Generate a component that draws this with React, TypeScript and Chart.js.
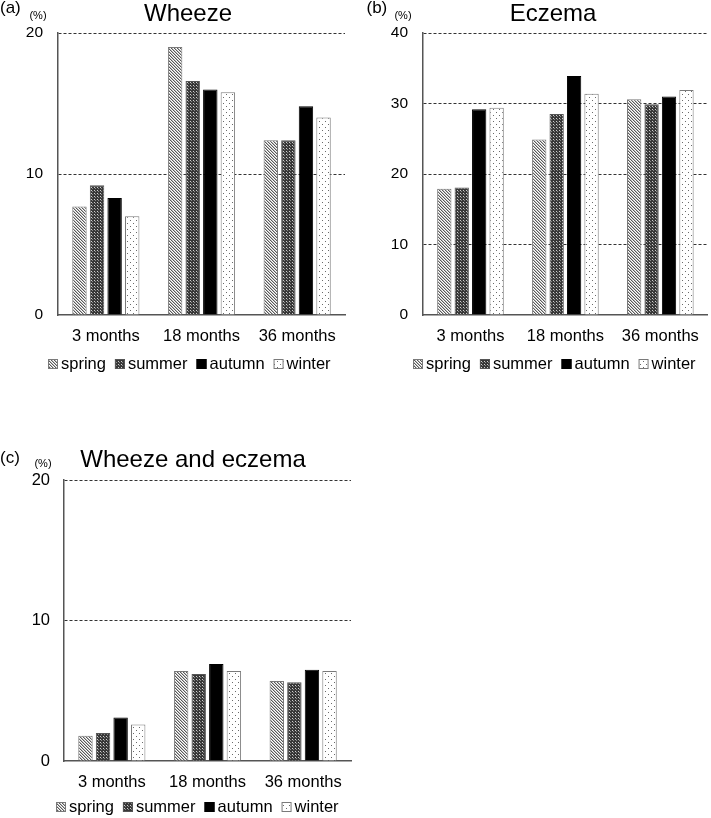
import React, { useEffect, useRef } from "react";
import { Chart, registerables } from "chart.js";

Chart.register(...registerables);

const FONT = '"Liberation Sans", Arial, Helvetica, sans-serif';

// ---------- data ----------
const categories = ["3 months", "18 months", "36 months"];
const seasons = ["spring", "summer", "autumn", "winter"];

const wheezeSpring = [7.7, 19.0, 12.4];
const wheezeSummer = [9.2, 16.6, 12.4];
const wheezeAutumn = [8.3, 16.0, 14.8];
const wheezeWinter = [7.0, 15.8, 14.0];

const eczemaSpring = [17.9, 24.9, 30.6];
const eczemaSummer = [18.1, 28.5, 29.9];
const eczemaAutumn = [29.2, 33.9, 31.0];
const eczemaWinter = [29.4, 31.4, 31.9];

const bothSpring = [1.8, 6.4, 5.7];
const bothSummer = [2.0, 6.2, 5.6];
const bothAutumn = [3.1, 6.9, 6.5];
const bothWinter = [2.6, 6.4, 6.4];

const wheezeMax = 20;
const eczemaMax = 40;
const bothMax = 20;
const tickStep = 10;

// ---------- patterns ----------
function makePattern(w: number, h: number, draw: (g: CanvasRenderingContext2D) => void) {
  const c = document.createElement("canvas");
  c.width = w;
  c.height = h;
  const g = c.getContext("2d")!;
  draw(g);
  const probe = document.createElement("canvas").getContext("2d")!;
  return probe.createPattern(c, "repeat")!;
}

function makeFills() {
  const spring = makePattern(3, 3, (g) => {
    g.fillStyle = "#ffffff";
    g.fillRect(0, 0, 3, 3);
    for (let i = 0; i < 3; i++) {
      g.fillStyle = "#5a5a5a";
      g.fillRect(i, i, 1, 1);
      g.fillStyle = "#bdbdbd";
      g.fillRect((i + 1) % 3, i, 1, 1);
    }
  });
  const summer = makePattern(3, 3, (g) => {
    g.fillStyle = "#383838";
    g.fillRect(0, 0, 3, 3);
    g.fillStyle = "#cfcfcf";
    g.fillRect(1, 1, 1, 1);
    g.fillStyle = "#8a8a8a";
    g.fillRect(2, 2, 1, 1);
  });
  const autumn = "#000000";
  const winter = makePattern(6, 6, (g) => {
    g.fillStyle = "#ffffff";
    g.fillRect(0, 0, 6, 6);
    g.fillStyle = "#6a6a6a";
    g.fillRect(1, 1, 1, 1);
    g.fillRect(4, 4, 1, 1);
  });
  return [spring, summer, autumn, winter];
}

const borderColors = ["#7a7a7a", "#555555", "#000000", "#7a7a7a"];

type PanelProps = {
  left: number;
  top: number;
  width: number;
  height: number;
  series: number[][];
  max: number;
  title: string;
  letter: string;
  padTop: number;
  padRight: number;
  yWidth: number;
  xHeight: number;
  yFont: number;
  yPad: number;
  xFont: number;
  xPad: number;
  titleX: number;
  titleY: number;
  letterX: number;
  letterY: number;
  unitX: number;
  unitY: number;
  legendX: number;
  legendY: number;
};

function Panel(p: PanelProps) {
  const ref = useRef<HTMLCanvasElement | null>(null);
  useEffect(() => {
    const canvas = ref.current!;
    const fills = makeFills();

    const decor = {
      id: "decor",
      afterDraw(chart: any) {
        const ctx: CanvasRenderingContext2D = chart.ctx;
        ctx.save();
        ctx.fillStyle = "#000";
        // title
        ctx.font = `24px ${FONT}`;
        ctx.textAlign = "center";
        ctx.textBaseline = "alphabetic";
        ctx.fillText(p.title, p.titleX, p.titleY);
        // letter
        ctx.font = `17px ${FONT}`;
        ctx.textAlign = "left";
        ctx.fillText(p.letter, p.letterX, p.letterY);
        // unit
        ctx.font = `11px ${FONT}`;
        ctx.textAlign = "center";
        ctx.fillText("(%)", p.unitX, p.unitY);
        // legend
        ctx.font = `16.5px ${FONT}`;
        ctx.textAlign = "left";
        const box = 10;
        const gapText = 3;
        const gapItem = 9;
        const widths = seasons.map((s) => ctx.measureText(s).width);
        const total =
          widths.reduce((a, b) => a + b, 0) + seasons.length * (box + gapText) + (seasons.length - 1) * gapItem;
        let x = Math.round(p.legendX - total / 2);
        chart.data.datasets.forEach((ds: any, i: number) => {
          ctx.fillStyle = ds.backgroundColor;
          ctx.fillRect(x, p.legendY - box, box, box);
          ctx.strokeStyle = ds.borderColor;
          ctx.lineWidth = 1;
          ctx.strokeRect(x + 0.5, p.legendY - box + 0.5, box - 1, box - 1);
          ctx.fillStyle = "#000";
          ctx.fillText(ds.label, x + box + gapText, p.legendY);
          x += box + gapText + widths[i] + gapItem;
        });
        ctx.restore();
      },
    };

    const chart = new Chart(canvas, {
      type: "bar",
      data: {
        labels: categories,
        datasets: seasons.map((s, i) => ({
          label: s,
          data: p.series[i],
          backgroundColor: fills[i] as any,
          borderColor: borderColors[i],
          borderWidth: 1,
          categoryPercentage: 0.735,
          barPercentage: 0.82,
        })),
      },
      options: {
        responsive: false,
        animation: false,
        devicePixelRatio: 1,
        layout: { padding: { top: p.padTop, right: p.padRight, left: 0, bottom: 0 } },
        plugins: {
          legend: { display: false },
          title: { display: false },
          tooltip: { enabled: false },
        },
        scales: {
          x: {
            grid: { display: false, drawTicks: false },
            border: { display: true, color: "#555555", width: 1.5 },
            ticks: { color: "#000", font: { family: FONT, size: p.xFont }, padding: p.xPad },
            afterFit: (s: any) => {
              s.height = p.xHeight;
            },
          },
          y: {
            min: 0,
            max: p.max,
            ticks: {
              stepSize: tickStep,
              color: "#000",
              font: { family: FONT, size: p.yFont },
              padding: p.yPad,
            },
            grid: {
              drawTicks: false,
              lineWidth: 1,
              color: (c: any) => (c.tick && c.tick.value === 0 ? "rgba(0,0,0,0)" : "#333333"),
            },
            border: { display: true, color: "#555555", width: 1.5, dash: [3, 2] },
            afterFit: (s: any) => {
              s.width = p.yWidth;
            },
          },
        },
      } as any,
      plugins: [decor],
    });
    return () => chart.destroy();
  }, []);

  return (
    <canvas
      ref={ref}
      width={p.width}
      height={p.height}
      style={{ position: "absolute", left: p.left, top: p.top, width: p.width, height: p.height }}
    />
  );
}

export default function App() {
  return (
    <div
      style={{
        position: "fixed",
        left: 0,
        top: 0,
        width: 711,
        height: 818,
        background: "#fff",
        overflow: "hidden",
      }}
    >
      <Panel
        left={0}
        top={0}
        width={358}
        height={380}
        series={[wheezeSpring, wheezeSummer, wheezeAutumn, wheezeWinter]}
        max={wheezeMax}
        title="Wheeze"
        letter="(a)"
        padTop={33}
        padRight={13}
        yWidth={58}
        xHeight={65}
        yFont={15.5}
        yPad={15}
        xFont={16.5}
        xPad={12}
        titleX={188}
        titleY={21}
        letterX={0}
        letterY={13}
        unitX={38}
        unitY={18.5}
        legendX={189.5}
        legendY={369}
      />
      <Panel
        left={360}
        top={0}
        width={351}
        height={380}
        series={[eczemaSpring, eczemaSummer, eczemaAutumn, eczemaWinter]}
        max={eczemaMax}
        title="Eczema"
        letter="(b)"
        padTop={33}
        padRight={1}
        yWidth={63}
        xHeight={65}
        yFont={15.5}
        yPad={15}
        xFont={16.5}
        xPad={12}
        titleX={193}
        titleY={21}
        letterX={6.5}
        letterY={13}
        unitX={43}
        unitY={18.5}
        legendX={194}
        legendY={369}
      />
      <Panel
        left={0}
        top={420}
        width={358}
        height={398}
        series={[bothSpring, bothSummer, bothAutumn, bothWinter]}
        max={bothMax}
        title="Wheeze and eczema"
        letter="(c)"
        padTop={60}
        padRight={7}
        yWidth={64}
        xHeight={57}
        yFont={16.5}
        yPad={14}
        xFont={16.5}
        xPad={12}
        titleX={193}
        titleY={47}
        letterX={0}
        letterY={43}
        unitX={43}
        unitY={47}
        legendX={197}
        legendY={392}
      />
    </div>
  );
}
